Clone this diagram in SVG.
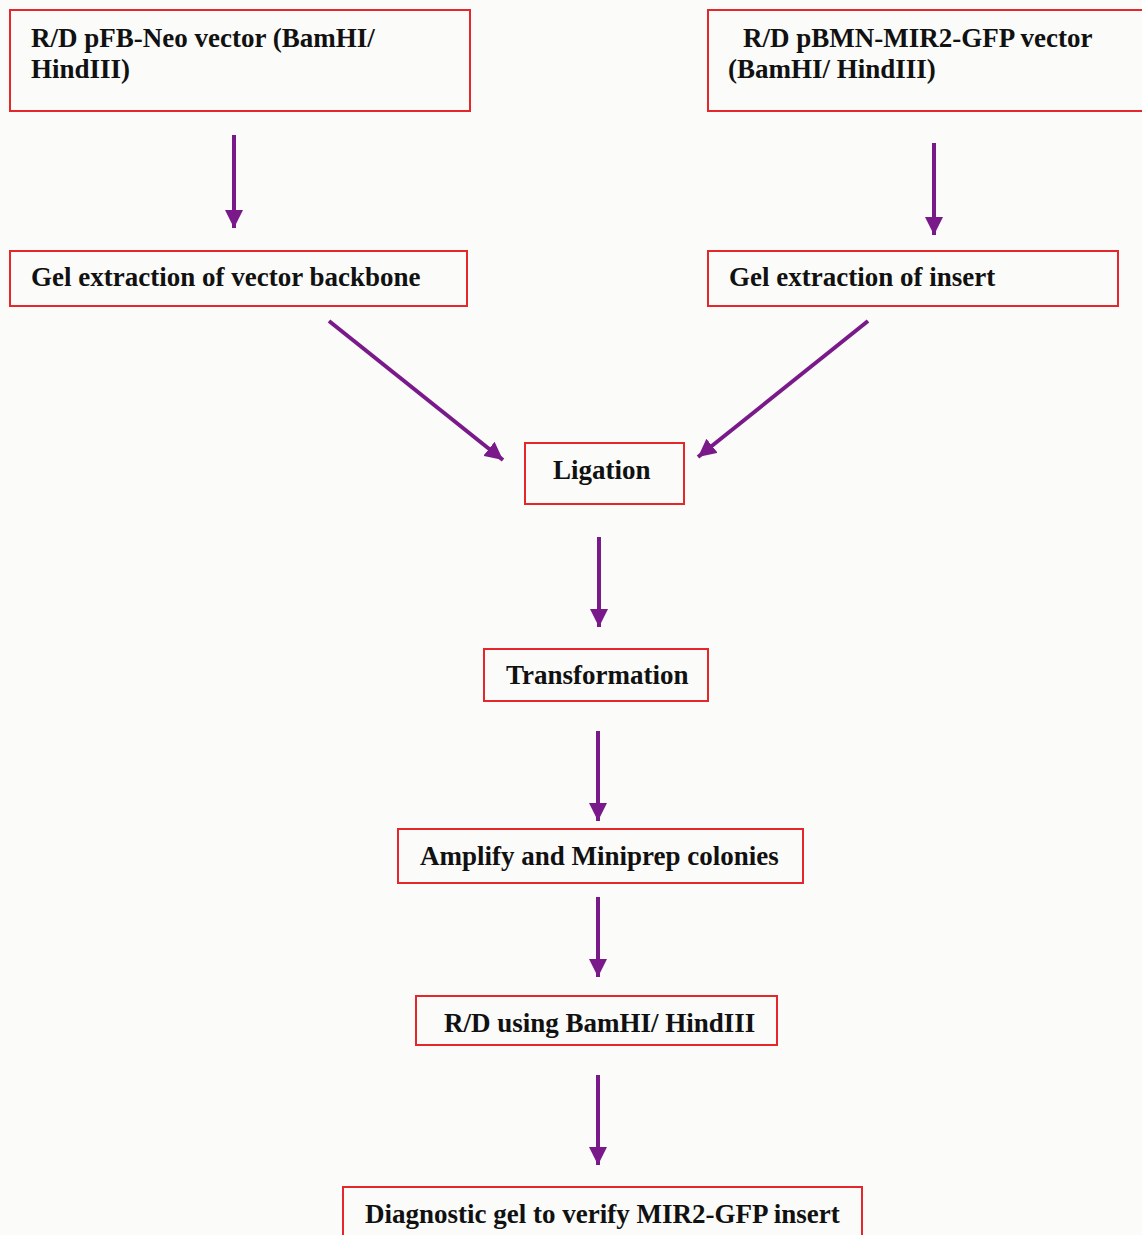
<svg xmlns="http://www.w3.org/2000/svg" width="1142" height="1235" viewBox="0 0 1142 1235">
<defs>
<marker id="ah" viewBox="0 0 10 10" refX="10" refY="5" markerWidth="4.5" markerHeight="4.5" markerUnits="strokeWidth" orient="auto">
<path d="M0,0 L10,5 L0,10 z" fill="#7a1a8a"/>
</marker>
<style>
.box{fill:none;stroke:#e5262b;stroke-width:2}
.t{font-family:"Liberation Serif","Times New Roman",serif;font-weight:bold;font-size:27px;fill:#111}
.c{stroke:#7a1a8a;stroke-width:4;fill:none;marker-end:url(#ah)}
</style>
</defs>
<rect width="1142" height="1235" fill="#fbfbf9"/>
<g id="n1"><rect class="box" x="10" y="10" width="460" height="101"/><text class="t" x="31" y="47">R/D pFB-Neo vector (BamHI/</text><text class="t" x="31" y="78">HindIII)</text></g>
<g id="n2"><rect class="box" x="708" y="10" width="440" height="101"/><text class="t" x="743" y="47">R/D pBMN-MIR2-GFP vector</text><text class="t" x="728" y="78">(BamHI/ HindIII)</text></g>
<g id="n3"><rect class="box" x="10" y="251" width="457" height="55"/><text class="t" x="31" y="286">Gel extraction of vector backbone</text></g>
<g id="n4"><rect class="box" x="708" y="251" width="410" height="55"/><text class="t" x="729" y="286">Gel extraction of insert</text></g>
<g id="n5"><rect class="box" x="525" y="443" width="159" height="61"/><text class="t" x="553" y="479">Ligation</text></g>
<g id="n6"><rect class="box" x="484" y="649" width="224" height="52"/><text class="t" x="506" y="684">Transformation</text></g>
<g id="n7"><rect class="box" x="398" y="829" width="405" height="54"/><text class="t" x="420" y="865">Amplify and Miniprep colonies</text></g>
<g id="n8"><rect class="box" x="416" y="996" width="361" height="49"/><text class="t" x="444" y="1032">R/D using BamHI/ HindIII</text></g>
<g id="n9"><rect class="box" x="343" y="1187" width="519" height="60"/><text class="t" x="365" y="1223">Diagnostic gel to verify MIR2-GFP insert</text></g>
<g id="connectors">
<line class="c" x1="234" y1="135" x2="234" y2="228"/>
<line class="c" x1="934" y1="143" x2="934" y2="235"/>
<line class="c" x1="329" y1="321" x2="503" y2="460"/>
<line class="c" x1="868" y1="321" x2="698" y2="457"/>
<line class="c" x1="599" y1="537" x2="599" y2="627"/>
<line class="c" x1="598" y1="731" x2="598" y2="821"/>
<line class="c" x1="598" y1="897" x2="598" y2="977"/>
<line class="c" x1="598" y1="1075" x2="598" y2="1165"/>
</g>
</svg>
